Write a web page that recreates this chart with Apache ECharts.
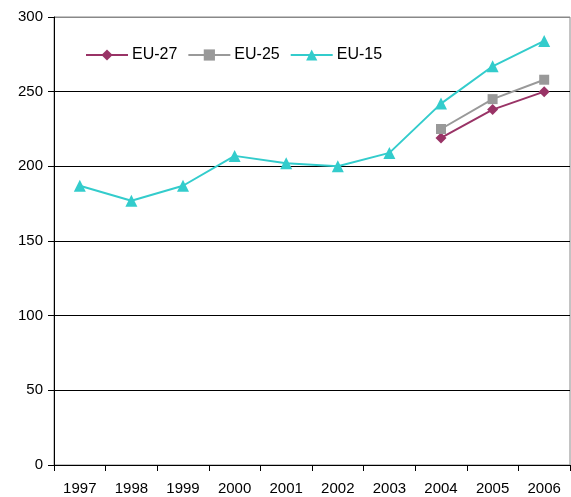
<!DOCTYPE html>
<html><head><meta charset="utf-8">
<script src="https://cdn.jsdelivr.net/npm/echarts@6/dist/echarts.min.js"></script>
<style>html,body{margin:0;padding:0;background:#fff}#c{width:571px;height:497px}</style>
</head><body><div id="c"></div>
<script>
const years = ['1997','1998','1999','2000','2001','2002','2003','2004','2005','2006'];
const eu27 = [null,null,null,null,null,null,null,219,238,250];
const eu25 = [null,null,null,null,null,null,null,225,245,258];
const eu15 = [187,177,187,207,202,200,209,242,267,284];
const yTicks = {min:0,max:300,interval:50};

const chart = echarts.init(document.getElementById('c'));
const font = 'Liberation Sans, Arial, sans-serif';
chart.setOption({
  animation:false,
  grid:{left:54,right:1,top:17,bottom:32,show:true,borderColor:'#888',borderWidth:1},
  legend:{left:80,top:42,itemWidth:42,itemHeight:14,itemGap:10,
    textStyle:{fontFamily:font,fontSize:16,color:'#000',padding:[0,0,0,-1]},
    data:['EU-27','EU-25','EU-15']},
  xAxis:{type:'category',data:years,boundaryGap:true,
    axisLine:{lineStyle:{color:'#000',width:1}},
    axisTick:{show:true,length:6,inside:false,lineStyle:{color:'#000'}},
    axisLabel:{fontFamily:font,fontSize:15,color:'#000',margin:16}},
  yAxis:{type:'value',min:yTicks.min,max:yTicks.max,interval:yTicks.interval,
    axisLine:{show:true,lineStyle:{color:'#000',width:1}},
    axisTick:{show:true,length:6,lineStyle:{color:'#000'}},
    axisLabel:{fontFamily:font,fontSize:15,color:'#000',margin:11},
    splitLine:{show:true,lineStyle:{color:['#000','#000','#000','#000','#000','#000','#888'],width:1}}},
  series:[
    {name:'EU-27',type:'line',data:eu27,symbol:'diamond',symbolSize:11,
     lineStyle:{color:'#993366',width:2},itemStyle:{color:'#993366'}},
    {name:'EU-25',type:'line',data:eu25,symbol:'rect',symbolSize:10,
     lineStyle:{color:'#999999',width:2},itemStyle:{color:'#999999'}},
    {name:'EU-15',type:'line',data:eu15,symbol:'triangle',symbolSize:12,
     lineStyle:{color:'#33CCCC',width:2},itemStyle:{color:'#33CCCC'}}
  ]
});
</script></body></html>
